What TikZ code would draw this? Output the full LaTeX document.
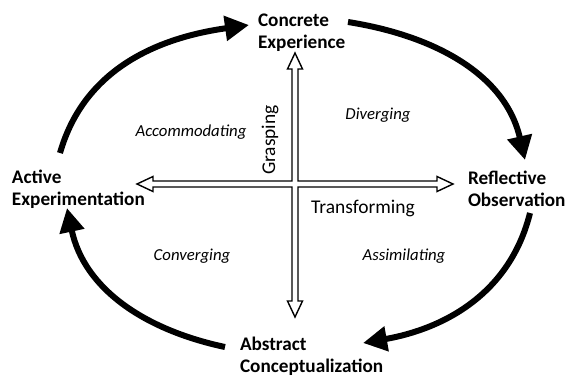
\documentclass[tikz,border=0pt]{standalone}
\usepackage{fontspec}
\setmainfont{Carlito}
\usetikzlibrary{arrows.meta, positioning, calc}

\begin{document}
\begin{tikzpicture}[x=0.03cm, y=0.03cm, every node/.style={inner sep=0pt, outer sep=0pt}]
\tikzstyle{stage}=[font=\bfseries\fontsize{16.4}{18.7}\selectfont, align=left, anchor=west]
\tikzstyle{mode}=[font=\itshape\fontsize{14.3}{16}\selectfont]
\tikzstyle{dimension}=[font=\fontsize{16.6}{19}\selectfont]
\tikzstyle{flow}=[line width=0.18cm, -{Triangle[length=0.72cm, width=0.72cm]}]

\useasboundingbox (0,0) rectangle (569,378);

% the four stages
\node (CE) [stage] at (258,345) {Concrete\\Experience};
\node (RO) [stage] at (468,189) {Reflective\\Observation};
\node (AC) [stage] at (240,22) {Abstract\\Conceptualization};
\node (AE) [stage] at (12,189) {Active\\Experimentation};

% ends of the cycle arcs
\coordinate (AE-out) at (60,225);
\coordinate (CE-in) at (249,353);
\coordinate (CE-out) at (348,356);
\coordinate (RO-in) at (525,218);
\coordinate (RO-out) at (530,165);
\coordinate (AC-in) at (363,35);
\coordinate (AC-out) at (225,31);
\coordinate (AE-in) at (67,170);

\draw [flow] (AE-out) to[out=74, in=188] (CE-in);
\draw [flow] (CE-out) to[out=-9, in=103] (RO-in);
\draw [flow] (RO-out) to[out=256, in=10] (AC-in);
\draw [flow] (AC-out) to[out=168, in=282] (AE-in);

% the two axes, one outline
\begin{scope}[shift={(295,194)}]
\draw [line width=1.2pt, fill=white, line join=miter]
  (3,3) -- (142,3) -- (142,7.5) -- (158,0) -- (142,-7.5) -- (142,-3) -- (3,-3)
  -- (3,-117) -- (7.5,-117) -- (0,-133) -- (-7.5,-117) -- (-3,-117) -- (-3,-3)
  -- (-142,-3) -- (-142,-7.5) -- (-158,0) -- (-142,7.5) -- (-142,3) -- (-3,3)
  -- (-3,115) -- (-7.5,115) -- (0,131) -- (7.5,115) -- (3,115) -- cycle;
\end{scope}

\node (grasp) [dimension, rotate=90] at (270,238) {Grasping};
\node (trans) [dimension] at (363,170) {Transforming};

% learning styles
\node (acc) [mode] at (191,246) {Accommodating};
\node (div) [mode] at (378,263) {Diverging};
\node (con) [mode] at (192,122) {Converging};
\node (ass) [mode] at (404,122) {Assimilating};
\end{tikzpicture}
\end{document}
